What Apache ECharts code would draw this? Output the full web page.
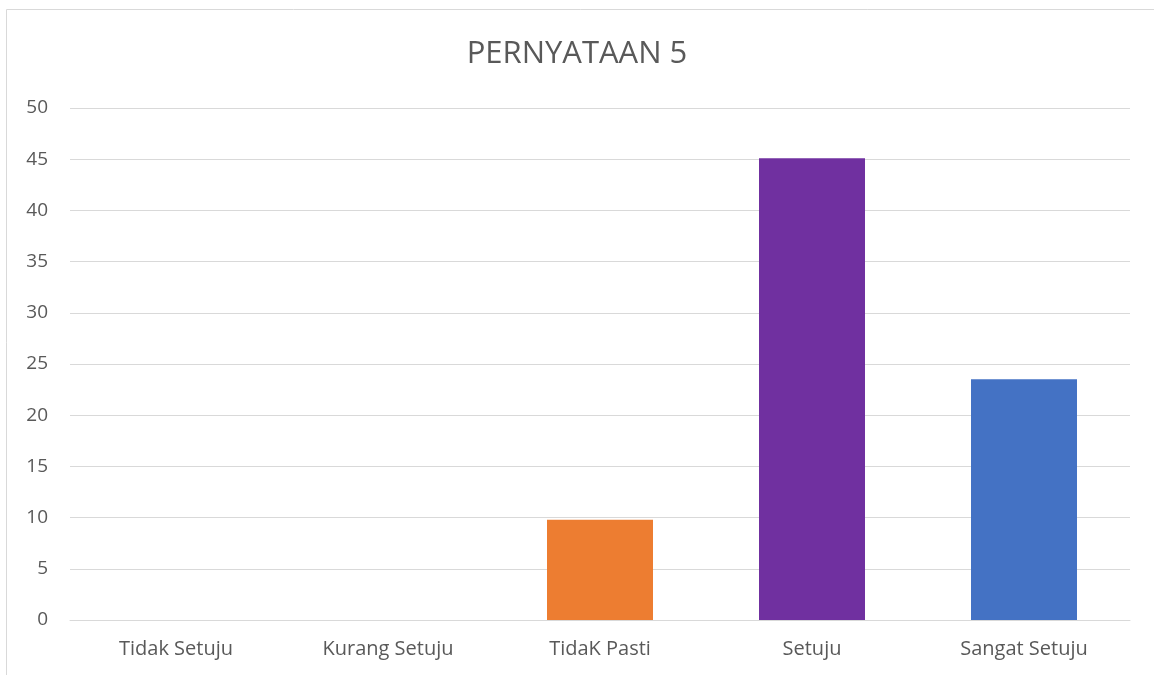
<!DOCTYPE html>
<html>
<head>
<meta charset="utf-8">
<script src="https://cdn.jsdelivr.net/npm/echarts@6/dist/echarts.min.js"></script>
<style>
html,body{margin:0;padding:0;background:#fff;}
#chart{width:1154px;height:675px;}
</style>
</head>
<body>
<div id="chart"></div>
<script>
var categories = ['Tidak Setuju', 'Kurang Setuju', 'TidaK Pasti', 'Setuju', 'Sangat Setuju'];
var values = [0, 0, 9.8, 45.1, 23.5];
var barColors = ['#5B9BD5', '#A5A5A5', '#ED7D31', '#7030A0', '#4472C4'];
var yTicks = [0, 50, 5];

var myChart = echarts.init(document.getElementById('chart'));
function draw(){
	var option = {
		animation: false,
		textStyle: {fontFamily: 'Open Sans'},
		title: {text: 'PERNYATAAN 5', left: 'center', top: 34,
			textStyle: {fontSize: 31, fontWeight: 'normal', color: '#595959', fontFamily: 'Open Sans'}},
		graphic: [{type: 'rect', shape: {x: 6.5, y: 9.5, width: 1160, height: 680},
			style: {fill: null, stroke: '#d9d9d9', lineWidth: 1}, silent: true}],
		grid: {left: 70, right: 24, top: 108, bottom: 55},
		xAxis: {type: 'category', data: categories,
			axisLine: {lineStyle: {color: '#d9d9d9', width: 1}}, axisTick: {show: false},
			axisLabel: {color: '#595959', fontSize: 20, margin: 19}},
		yAxis: {type: 'value', min: yTicks[0], max: yTicks[1], interval: yTicks[2],
			axisLine: {show: false}, axisTick: {show: false},
			axisLabel: {color: '#595959', fontSize: 19, margin: 22},
			splitLine: {lineStyle: {color: '#d9d9d9', width: 1}}},
		series: [{type: 'bar', barWidth: '50%',
			data: values.map(function(v, i){ return {value: v, itemStyle: {color: barColors[i]}}; })}]
	};
	myChart.setOption(option, true);
}
draw();
</script>
</body>
</html>
